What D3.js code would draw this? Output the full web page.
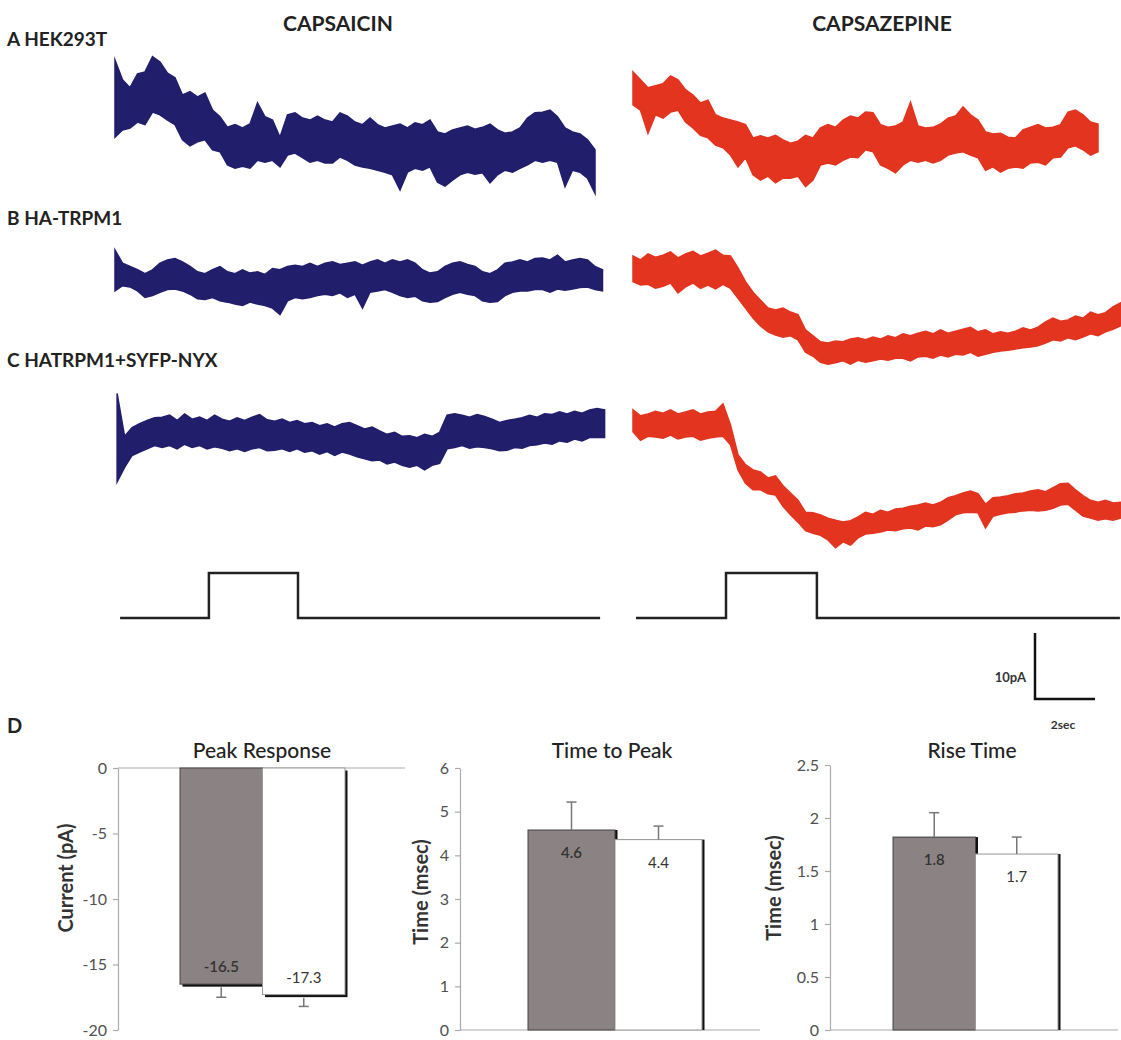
<!DOCTYPE html>
<html><head><meta charset="utf-8">
<script src="https://cdn.jsdelivr.net/npm/d3@7"></script>
<style>
body{margin:0;background:#fff;}
svg text{font-family:Lato,"Open Sans",sans-serif;}
</style></head><body>
<svg id="fig" width="1121" height="1040"></svg>
<script>
// ---------- DATA ----------
const dt = 0.25; // sec between envelope samples
// Row A: HEK293T (pA envelope, upper / lower)
const capA_hi = [0,-3.0,-4.2,-2.1,-1.8,0.5,-0.3,-2.0,-2.7,-5.3,-4.8,-5.6,-5.0,-7.6,-8.6,-10.2,-9.8,-10.3,-9.7,-6.5,-8.6,-9.1,-11.7,-8.3,-8.0,-8.8,-9.1,-8.5,-9.1,-9.4,-8.0,-8.5,-9.4,-9.8,-8.8,-9.8,-10.3,-10.0,-9.7,-10.3,-9.5,-9.8,-9.1,-10.9,-11.2,-10.6,-10.3,-10.0,-10.5,-10.2,-9.7,-10.6,-11.1,-10.9,-10.3,-8.8,-8.0,-7.9,-7.6,-8.6,-10.3,-10.9,-11.2,-12.1,-13.6];
const capA_lo = [-11.7,-10.6,-10.3,-9.4,-9.8,-7.9,-8.3,-9.1,-9.8,-12.1,-13.0,-12.4,-12.1,-13.6,-13.9,-15.9,-16.4,-16.1,-16.4,-15.2,-15.5,-15.2,-16.2,-14.4,-14.1,-14.8,-15.5,-15.2,-15.6,-15.6,-14.7,-15.2,-15.9,-16.2,-16.4,-16.7,-17.0,-17.4,-19.7,-17.0,-16.4,-16.7,-16.2,-18.5,-19.1,-18.2,-17.4,-17.0,-17.3,-17.1,-18.6,-17.4,-16.7,-17.0,-16.4,-15.9,-15.2,-15.5,-15.2,-15.5,-19.2,-16.7,-17.0,-17.9,-20.2];
const czpA_hi = [-1.8,-3.0,-4.2,-3.9,-3.6,-2.4,-3.0,-4.5,-5.3,-6.5,-6.1,-8.3,-8.8,-9.1,-9.4,-9.8,-11.8,-11.5,-11.8,-11.4,-12.1,-12.6,-12.3,-11.4,-11.8,-10.3,-9.8,-10.2,-9.1,-8.5,-8.8,-7.9,-8.0,-9.8,-10.2,-10.0,-9.4,-6.4,-10.0,-10.3,-10.2,-9.7,-8.8,-8.5,-7.1,-8.3,-9.1,-10.9,-11.2,-11.1,-11.7,-11.8,-10.6,-10.2,-9.8,-10.3,-10.2,-9.8,-7.9,-7.6,-8.3,-9.4,-9.7];
const czpA_lo = [-6.8,-7.6,-11.1,-8.3,-8.8,-7.9,-7.6,-9.4,-10.3,-11.4,-11.8,-12.9,-13.3,-14.4,-16.2,-14.8,-17.4,-18.2,-17.6,-18.6,-17.9,-17.9,-17.6,-19.2,-18.2,-15.9,-15.6,-15.9,-15.2,-14.7,-14.8,-13.6,-13.9,-15.9,-16.4,-17.1,-15.9,-15.2,-15.5,-15.2,-15.6,-15.2,-14.4,-14.1,-13.9,-14.4,-14.8,-16.7,-16.2,-17.0,-16.4,-16.2,-16.4,-15.6,-15.5,-15.9,-14.8,-14.7,-13.3,-13.0,-13.6,-14.4,-13.9];
// Row B: HA-TRPM1
const capB_hi = [0.0,-2.0,-2.5,-3.0,-3.6,-3.0,-2.0,-1.5,-1.3,-1.8,-2.5,-3.3,-3.6,-3.0,-2.5,-3.3,-3.6,-3.0,-3.5,-3.3,-3.7,-2.8,-3.0,-2.5,-2.3,-2.5,-2.0,-2.5,-2.0,-1.8,-2.2,-2.0,-1.8,-2.3,-1.8,-1.5,-2.0,-1.5,-1.8,-1.5,-2.0,-3.0,-3.5,-3.3,-2.5,-2.0,-1.8,-2.2,-2.5,-3.3,-3.6,-3.0,-2.0,-1.8,-1.5,-1.8,-1.3,-1.2,-1.5,-0.8,-1.8,-1.5,-1.3,-1.5,-2.5,-3.0];
const capB_lo = [-6.2,-5.4,-5.6,-6.2,-7.2,-6.9,-6.4,-6.0,-5.9,-6.2,-6.7,-7.4,-7.5,-7.2,-7.7,-7.9,-8.2,-8.4,-7.9,-8.2,-8.4,-8.8,-9.8,-7.7,-7.2,-7.4,-7.2,-6.9,-6.7,-6.9,-6.5,-7.2,-6.7,-8.8,-6.4,-6.2,-6.0,-6.4,-6.9,-7.2,-7.0,-7.7,-7.9,-7.8,-7.2,-6.7,-6.4,-6.7,-6.9,-7.7,-7.9,-7.8,-6.9,-6.4,-6.2,-6.2,-6.0,-6.0,-6.4,-5.9,-6.1,-5.9,-5.7,-5.6,-6.0,-6.2];
const czpB_hi = [-0.9,-1.5,-0.6,-1.1,-0.8,-0.3,-1.2,-0.6,-0.2,-0.9,-0.5,0,-0.8,-0.9,-2.7,-4.8,-6.4,-7.6,-8.8,-9.1,-8.8,-9.4,-9.8,-12.1,-13.0,-13.9,-14.1,-13.8,-13.9,-13.5,-13.3,-13.6,-13.2,-13.5,-13.0,-13.3,-12.7,-13.0,-12.6,-12.3,-12.7,-12.1,-12.6,-12.3,-12.0,-11.7,-12.4,-12.1,-12.7,-12.4,-12.6,-12.3,-11.8,-12.1,-11.7,-10.9,-10.3,-10.8,-10.6,-10.0,-10.3,-9.4,-9.8,-9.5,-8.6,-8.0];
const czpB_lo = [-4.8,-5.3,-5.2,-5.8,-5.5,-5.0,-6.5,-5.6,-5.0,-5.8,-5.3,-5.9,-5.2,-5.8,-7.3,-8.8,-10.3,-11.5,-12.4,-12.9,-13.2,-13.0,-13.6,-15.5,-16.1,-17.0,-17.3,-17.1,-16.8,-17.3,-16.7,-17.0,-16.8,-16.5,-16.7,-16.4,-16.4,-16.8,-16.2,-16.1,-16.4,-15.9,-16.2,-15.8,-15.9,-15.5,-16.1,-15.8,-15.5,-15.3,-15.2,-15.0,-14.8,-14.7,-14.5,-14.1,-13.6,-13.8,-13.3,-13.6,-13.2,-12.7,-13.0,-12.4,-12.0,-11.5];
// Row C: HATRPM1+SYFP-NYX
const capC_hi = [1.0,-5.5,-4.2,-3.6,-3.1,-2.7,-2.6,-2.3,-3.1,-2.1,-2.9,-2.6,-3.1,-2.3,-2.9,-3.2,-2.7,-3.1,-2.6,-2.2,-3.0,-3.2,-2.9,-3.4,-3.1,-3.6,-3.4,-3.9,-3.6,-4.1,-3.6,-3.4,-3.9,-4.4,-4.1,-4.7,-5.2,-4.9,-5.5,-5.4,-5.7,-5.2,-5.5,-4.9,-2.3,-2.1,-2.3,-2.6,-2.2,-2.5,-2.9,-3.4,-3.1,-2.9,-2.7,-2.3,-2.6,-2.1,-2.2,-1.8,-2.1,-1.7,-2.0,-1.5,-1.3,-1.5];
const capC_lo = [-12.4,-10.2,-8.4,-7.9,-7.4,-6.9,-7.2,-6.9,-7.4,-6.7,-7.2,-6.9,-7.4,-7.1,-7.3,-7.7,-7.4,-7.8,-7.4,-7.2,-7.7,-7.6,-7.4,-7.8,-7.4,-7.9,-7.7,-8.2,-7.8,-8.4,-7.9,-8.2,-8.6,-8.9,-9.2,-9.1,-9.7,-9.4,-9.9,-10.2,-9.9,-10.6,-9.9,-9.6,-7.4,-7.2,-6.9,-7.3,-7.1,-7.2,-7.4,-7.7,-7.6,-7.2,-7.3,-6.9,-6.8,-6.5,-6.7,-6.2,-6.4,-5.9,-6.2,-5.7,-5.7,-5.7];
const czpC_hi = [-1.5,-2.4,-2.1,-1.7,-2.0,-1.5,-2.1,-1.8,-1.5,-2.1,-1.8,-1.7,-0.6,-3.8,-8.3,-9.8,-10.6,-10.9,-11.8,-11.5,-13.0,-14.1,-15.2,-17.0,-17.1,-17.4,-17.9,-18.2,-18.5,-18.3,-17.7,-17.0,-17.3,-16.7,-17.0,-16.5,-16.4,-16.1,-15.9,-15.6,-15.9,-15.5,-14.8,-14.5,-14.1,-13.8,-14.2,-15.8,-14.8,-14.7,-14.5,-14.2,-14.1,-13.8,-13.6,-13.9,-13.3,-12.7,-12.6,-13.6,-14.5,-15.2,-15.5,-15.2,-15.6,-15.5];
const czpC_lo = [-4.8,-6.1,-5.5,-5.6,-5.8,-5.3,-5.9,-5.6,-5.5,-6.1,-5.8,-5.6,-5.5,-6.8,-10.6,-12.6,-13.6,-13.6,-14.2,-14.4,-16.1,-17.4,-18.5,-19.8,-20.2,-20.5,-21.2,-22.4,-21.5,-22.0,-20.9,-20.3,-20.2,-20.0,-19.7,-19.8,-19.5,-19.4,-19.7,-19.1,-19.2,-18.9,-18.2,-17.4,-17.1,-17.0,-17.1,-19.4,-17.6,-17.3,-17.1,-17.0,-16.8,-16.7,-16.8,-16.7,-16.4,-15.9,-15.8,-16.7,-17.6,-17.9,-18.2,-18.0,-18.2,-17.9];
// trace start times (sec)
const traceStart = {capA:0, czpA:0, capB:0, czpB:0, capC:0.07, czpC:0};
// stimulus protocol (sec, level 0/1)
const stimCapT = [0.17, 3.13, 3.13, 6.1, 6.1, 16.17];
const stimCzpT = [0.1, 3.1, 3.1, 6.13, 6.13, 16.23];
const stimLevel = [0, 0, 1, 1, 0, 0];
// scale bar
const scaleBarPA = 10, scaleBarSec = 2;
// bar charts (panel D)
const groups = ["g1", "g2"];
const peakMean = [-16.5, -17.3], peakErr = [1.0, 0.9];
const ttpMean = [4.58, 4.36], ttpErr = [0.64, 0.31];
const riseMean = [1.82, 1.66], riseErr = [0.23, 0.16];
const peakTicks = [0, -5, -10, -15, -20];
const ttpTicks = [0, 1, 2, 3, 4, 5, 6];
const riseTicks = [0, 0.5, 1, 1.5, 2, 2.5];

// ---------- DRAW ----------
const svg = d3.select("#fig");
const BLUE = "#211e6c", RED = "#e2341f";
const tLeft = d3.scaleLinear().domain([0, 16]).range([115, 595]);
const tRight = d3.scaleLinear().domain([0, 16]).range([633, 1113]);
const rowScale = ref => d3.scaleLinear().domain([0, -10]).range([ref, ref + 66]);
const yA = rowScale(60), yB = rowScale(250), yC = rowScale(400);

const traces = [
  {hi: capA_hi, lo: capA_lo, t0: traceStart.capA, x: tLeft, y: yA, c: BLUE},
  {hi: czpA_hi, lo: czpA_lo, t0: traceStart.czpA, x: tRight, y: yA, c: RED},
  {hi: capB_hi, lo: capB_lo, t0: traceStart.capB, x: tLeft, y: yB, c: BLUE},
  {hi: czpB_hi, lo: czpB_lo, t0: traceStart.czpB, x: tRight, y: yB, c: RED},
  {hi: capC_hi, lo: capC_lo, t0: traceStart.capC, x: tLeft, y: yC, c: BLUE},
  {hi: czpC_hi, lo: czpC_lo, t0: traceStart.czpC, x: tRight, y: yC, c: RED}
];
traces.forEach(tr => {
  const pts = tr.hi.map((h, i) => ({t: tr.t0 + i * dt, hi: h, lo: tr.lo[i]}));
  svg.append("path").datum(pts)
    .attr("d", d3.area().x(d => tr.x(d.t)).y0(d => tr.y(d.hi)).y1(d => tr.y(d.lo)))
    .attr("fill", tr.c).attr("stroke", tr.c).attr("stroke-width", 1.5)
    .attr("stroke-linejoin", "miter").attr("stroke-miterlimit", 8);
});

// stimulus
const stimY = d3.scaleLinear().domain([0, 1]).range([618, 573]);
[[stimCapT, tLeft], [stimCzpT, tRight]].forEach(([ts, xs]) => {
  const pts = ts.map((t, i) => [xs(t), stimY(stimLevel[i])]);
  svg.append("path").attr("d", d3.line()(pts)).attr("fill", "none")
    .attr("stroke", "#222").attr("stroke-width", 2.5);
});

// scale bar
const sbx = 1035, sby = 699;
const sbH = yA(-scaleBarPA) - yA(0), sbW = tRight(scaleBarSec) - tRight(0);
svg.append("path").attr("d", `M${sbx},${sby - sbH}V${sby}H${sbx + sbW}`)
  .attr("fill", "none").attr("stroke", "#111").attr("stroke-width", 2.5);
svg.append("text").attr("x", sbx - 9).attr("y", sby - 17).attr("text-anchor", "end")
  .attr("font-size", 13).attr("font-weight", 700).attr("fill", "#333").text(scaleBarPA + "pA");
svg.append("text").attr("x", sbx + 28).attr("y", sby + 30).attr("text-anchor", "middle")
  .attr("font-size", 12).attr("font-weight", 700).attr("fill", "#333").text(scaleBarSec + "sec");

// headers
const hdr = (x, y, s, anchor, size) => svg.append("text").attr("x", x).attr("y", y)
  .attr("text-anchor", anchor || "start").attr("font-size", size || 20).attr("font-weight", 700)
  .attr("fill", "#222").text(s);
hdr(338, 31, "CAPSAICIN", "middle", 21);
hdr(882, 31, "CAPSAZEPINE", "middle", 21);
hdr(7, 46, "A HEK293T", "start", 19);
hdr(7, 225, "B HA-TRPM1", "start", 19);
hdr(7, 367, "C HATRPM1+SYFP-NYX", "start", 19);
hdr(7, 733, "D", "start", 20);

// ---------- bar charts ----------
function barChart(o) {
  const g = svg.append("g");
  const y = d3.scaleLinear().domain(o.domain).range(o.yRange);
  const x = d3.scaleBand().domain(groups).range(o.xRange).padding(0);
  const y0 = y(0);
  g.append("line").attr("x1", o.axisX).attr("x2", o.lineEnd).attr("y1", y0).attr("y2", y0)
    .attr("stroke", "#aaa").attr("stroke-width", 1.2);
  const ax = g.append("g").attr("transform", `translate(${o.axisX},0)`)
    .call(d3.axisLeft(y).tickValues(o.ticks).tickSize(5).tickSizeOuter(0).tickPadding(6)
      .tickFormat(d => String(d)));
  ax.select(".domain").attr("stroke", "#aaa").attr("stroke-width", 1.2);
  ax.selectAll(".tick line").attr("stroke", "#aaa").attr("stroke-width", 1.2);
  ax.selectAll(".tick text").attr("font-size", 16).attr("fill", "#505050")
    .attr("font-family", "Lato, sans-serif");
  const fills = ["#8b8284", "#ffffff"];
  o.mean.forEach((m, i) => {
    const bx = x(groups[i]), bw = x.bandwidth();
    const top = Math.min(y(m), y0), h = Math.abs(y(m) - y0);
    g.append("rect").attr("x", bx + 2.5).attr("y", top + (m < 0 ? 2.5 : 0)).attr("width", bw)
      .attr("height", h).attr("fill", "#111");
    g.append("rect").attr("x", bx).attr("y", top).attr("width", bw).attr("height", h)
      .attr("fill", fills[i]).attr("stroke", i === 0 ? "#444" : "#999").attr("stroke-width", 1);
    const cx = bx + bw / 2, ye = y(m + (m < 0 ? -o.err[i] : o.err[i]));
    g.append("line").attr("x1", cx).attr("x2", cx).attr("y1", y(m) + (m < 0 ? 3 : 0)).attr("y2", ye)
      .attr("stroke", "#777").attr("stroke-width", 1.5);
    g.append("line").attr("x1", cx - 5).attr("x2", cx + 5).attr("y1", ye).attr("y2", ye)
      .attr("stroke", "#777").attr("stroke-width", 1.5);
    const ly = m < 0 ? y(m) - 12 : y(m) + 28;
    g.append("text").attr("x", cx).attr("y", ly).attr("text-anchor", "middle")
      .attr("font-size", 15).attr("fill", "#333").attr("font-weight", i === 0 ? 600 : 400)
      .text(d3.format(".1f")(m).replace("\u2212", "-"));
  });
  g.append("text").attr("x", o.titleX).attr("y", 758).attr("text-anchor", "middle")
    .attr("font-size", 21).attr("fill", "#222").attr("font-weight", 500).text(o.title);
  g.append("text").attr("transform", `translate(${o.labX},${o.labY}) rotate(-90)`)
    .attr("text-anchor", "middle").attr("dominant-baseline", "central")
    .attr("font-size", 20).attr("font-weight", 700).attr("fill", "#333").text(o.ylabel);
}
barChart({mean: peakMean, err: peakErr, domain: [0, -20], yRange: [768, 1030], xRange: [180, 345],
  axisX: 118, lineEnd: 405, ticks: peakTicks, title: "Peak Response", titleX: 262,
  ylabel: "Current (pA)", labX: 65, labY: 878});
barChart({mean: ttpMean, err: ttpErr, domain: [0, 6], yRange: [1030, 768], xRange: [528, 702],
  axisX: 460, lineEnd: 760, ticks: ttpTicks, title: "Time to Peak", titleX: 612,
  ylabel: "Time (msec)", labX: 420, labY: 892});
barChart({mean: riseMean, err: riseErr, domain: [0, 2.5], yRange: [1030, 765], xRange: [893, 1058],
  axisX: 830, lineEnd: 1118, ticks: riseTicks, title: "Rise Time", titleX: 972,
  ylabel: "Time (msec)", labX: 773, labY: 888});
</script>
</body></html>
